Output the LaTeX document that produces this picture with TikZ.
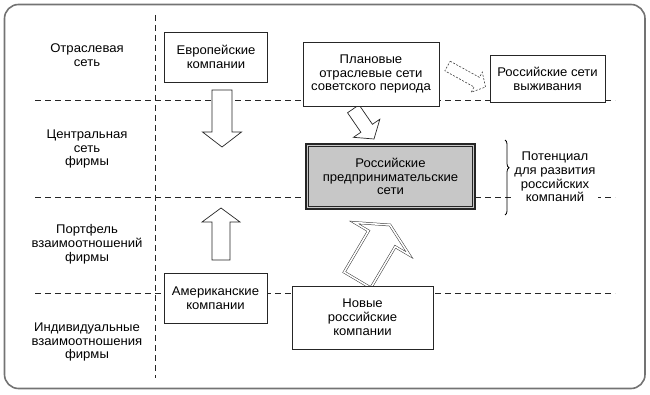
\documentclass[tikz,border=0pt]{standalone}
\usepackage{fontspec}
\setmainfont{Liberation Sans}[FakeStretch=1.04]
\usetikzlibrary{calc,decorations.pathreplacing}
\newcommand\dfont{\fontsize{12.6}{13.8}\selectfont}
% block arrow: #1 style, #2 tail, #3 tip, #4 shaft half width, #5 head half width, #6 head length
\newcommand\blockarr[6]{%
  \coordinate (ba-h) at ($(#3)!#6!(#2)$);
  \draw[#1] ($(#2)!#4!90:(#3)$) -- ($(ba-h)!#4!90:(#3)$) -- ($(ba-h)!#5!90:(#3)$) -- (#3)
    -- ($(ba-h)!#5!-90:(#3)$) -- ($(ba-h)!#4!-90:(#3)$) -- ($(#2)!#4!-90:(#3)$) -- cycle;}
\tikzset{
  box/.style={draw=black!85, fill=white, line width=0.8pt, align=center, inner sep=0pt, font=\dfont},
  lbl/.style={align=center, inner sep=0pt, font=\dfont},
  dl/.style={draw=black!85, line width=0.8pt, dash pattern=on 6pt off 4pt},
  barrow/.style={draw=black!85, fill=white, line width=0.7pt, line join=miter},
  dbarrow/.style={draw=black!80, double=white, double distance=1.6pt, line width=0.5pt, line join=miter},
  dsarrow/.style={draw=black!75, fill=white, line width=0.6pt, dash pattern=on 2pt off 1.5pt}
}
\begin{document}
\begin{tikzpicture}[x=1pt,y=-1pt]
\useasboundingbox (0,0) rectangle (650,395);
% frame
\draw[draw=black!55, line width=1.6pt, rounded corners=14pt] (4.5,4.5) rectangle (645,388.5);
% grid of dashed lines
\draw[dl] (155,15) -- (155,378);
\draw[dl] (35,100) -- (615,100);
\draw[dl] (35,197) -- (615,197);
\draw[dl] (35,293) -- (615,293);
% arrow endpoints
\coordinate (a1s) at (222,90);    \coordinate (a1t) at (222,147);
\coordinate (a2s) at (221,260);   \coordinate (a2t) at (221,208);
\coordinate (a3s) at (353.3,108.8); \coordinate (a3t) at (374,139);
\coordinate (a4s) at (447.5,66);  \coordinate (a4t) at (485.5,87);
\coordinate (a5s) at (357.5,280); \coordinate (a5t) at (390,225);
\blockarr{barrow}{a1s}{a1t}{10pt}{19.5pt}{15pt}
\blockarr{barrow}{a2s}{a2t}{9pt}{19pt}{14pt}
\blockarr{barrow}{a3s}{a3t}{7pt}{16pt}{13pt}
\blockarr{dsarrow}{a4s}{a4t}{5.5pt}{11.5pt}{10pt}
\blockarr{dbarrow}{a5s}{a5t}{15.5pt}{32pt}{16pt}
% boxes
\node[box, minimum width=103pt, minimum height=50pt] (eu) at (216,57) {Европейские\\компании};
\node[box, minimum width=136pt, minimum height=64pt] (plan) at (371,74) {Плановые\\отраслевые сети\\советского периода};
\node[box, minimum width=115pt, minimum height=47pt] (surv) at (547.5,78.5) {Российские сети\\выживания};
\node[box, fill=black!22, line width=1.6pt, minimum width=169pt, minimum height=65pt] (cen) at (390.5,176.5) {Российские\\предпринимательские\\сети};
\draw[draw=black!85, line width=0.7pt] ($(cen.north west)+(3,3)$) rectangle ($(cen.south east)+(-3,-3)$);
\node[box, minimum width=103pt, minimum height=50pt] (am) at (215.5,298) {Американские\\компании};
\node[box, minimum width=141pt, minimum height=63pt] (new) at (362.5,317.5) {Новые\\российские\\компании};
% left labels
\node[lbl] (l1) at (87,55) {Отраслевая\\сеть};
\node[lbl] (l2) at (87,149) {Центральная\\сеть\\фирмы};
\node[lbl] (l3) at (87,244) {Портфель\\взаимоотношений\\фирмы};
\node[lbl] (l4) at (87,342) {Индивидуальные\\взаимоотношения\\фирмы};
% right brace and label
\node[lbl, fill=white, minimum width=86pt, minimum height=58pt] (pot) at (555,177) {Потенциал\\для развития\\российских\\компаний};
\coordinate (bt) at (505,140); \coordinate (bb) at (505,215);
\draw[decorate, decoration={brace, amplitude=4pt, aspect=0.37}, line width=0.8pt] (bt) -- (bb);
\end{tikzpicture}
\end{document}
